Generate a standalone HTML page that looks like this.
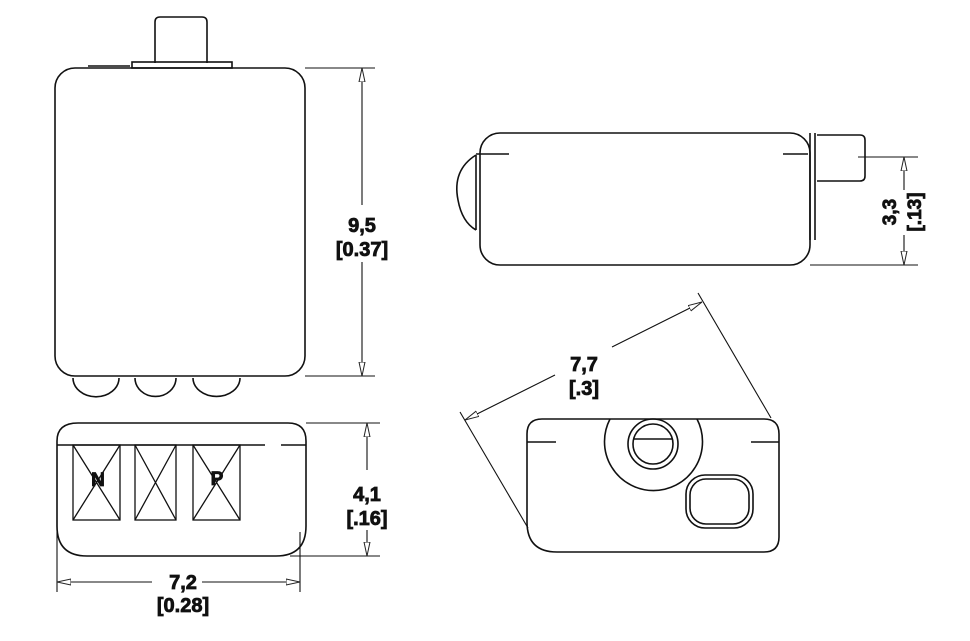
<!DOCTYPE html>
<html><head><meta charset="utf-8"><style>
html,body{margin:0;padding:0;background:#fff;}
svg{display:block}
text{font-family:"Liberation Sans",sans-serif;font-weight:bold;fill:#111;stroke:#111;stroke-width:0.8;text-anchor:middle}
</style></head><body>
<svg width="970" height="641" viewBox="0 0 970 641" xmlns="http://www.w3.org/2000/svg">
<defs>
<marker id="ar" viewBox="0 0 14 8" refX="14" refY="4" markerWidth="14" markerHeight="8" markerUnits="userSpaceOnUse" orient="auto-start-reverse">
<path d="M0,1 L14,4 L0,7 Z" fill="#fff" stroke="#222" stroke-width="1"/>
</marker>
</defs>
<g fill="none" stroke="#111" stroke-width="1.6">
<!-- top-left view -->
<rect x="55" y="68" width="250" height="308" rx="20"/>
<path d="M155,63 V22 Q155,17 160,17 H202 Q207,17 207,22 V63"/>
<rect x="132" y="62" width="100" height="6"/>
<line x1="88" y1="66" x2="130" y2="66"/>
<path d="M73,378 A22,18 0 0 0 119,378"/>
<path d="M135,378 A20,18 0 0 0 176,378"/>
<path d="M193,378 A23,18 0 0 0 240,378"/>
<g stroke-width="1.1">
<line x1="305" y1="68" x2="375" y2="68"/><line x1="305" y1="376" x2="375" y2="376"/>
<line x1="362" y1="205" x2="362" y2="68" marker-end="url(#ar)"/>
<line x1="362" y1="262" x2="362" y2="376" marker-end="url(#ar)"/>
</g>
<!-- bottom-left view -->
<path d="M78,423 H288 Q306,423 306,441 V526 Q306,556 276,556 H87 Q57,556 57,526 V441 Q57,423 78,423 Z"/>
<line x1="57" y1="445" x2="265" y2="445"/><line x1="281" y1="445" x2="306" y2="445"/>
<g stroke-width="1.3">
<rect x="73" y="445" width="47" height="75"/><path d="M73,445 L120,520 M120,445 L73,520"/>
<rect x="135" y="445" width="41" height="75"/><path d="M135,445 L176,520 M176,445 L135,520"/>
<rect x="193" y="445" width="47" height="75"/><path d="M193,445 L240,520 M240,445 L193,520"/>
</g>
<g stroke-width="1.1">
<line x1="306" y1="423" x2="380" y2="423"/><line x1="290" y1="556" x2="380" y2="556"/>
<line x1="367" y1="470" x2="367" y2="423" marker-end="url(#ar)"/>
<line x1="367" y1="530" x2="367" y2="556" marker-end="url(#ar)"/>
<line x1="57" y1="520" x2="57" y2="592"/><line x1="300" y1="532" x2="300" y2="592"/>
<line x1="152" y1="582" x2="57" y2="582" marker-end="url(#ar)"/>
<line x1="202" y1="582" x2="300" y2="582" marker-end="url(#ar)"/>
</g>
<!-- top-right view -->
<rect x="480" y="133" width="330" height="132" rx="20"/>
<path d="M476,155 Q452,170 458,200 Q462,222 476,230"/>
<line x1="476" y1="155" x2="476" y2="230"/>
<line x1="476" y1="154" x2="509" y2="154"/><line x1="783" y1="154" x2="808" y2="154"/>
<line x1="810" y1="133" x2="810" y2="240"/><line x1="815" y1="133" x2="815" y2="240"/>
<path d="M817,135 H860 Q865,135 865,140 V176 Q865,181 860,181 H817"/>
<g stroke-width="1.1">
<line x1="858" y1="157" x2="918" y2="157"/><line x1="810" y1="265" x2="918" y2="265"/>
<line x1="904" y1="190" x2="904" y2="157" marker-end="url(#ar)"/>
<line x1="904" y1="235" x2="904" y2="265" marker-end="url(#ar)"/>
</g>
<!-- bottom-right view -->
<path d="M542,419 H764 Q779,419 779,434 V537 Q779,552 764,552 H557 Q527,552 527,522 V434 Q527,419 542,419 Z"/>
<line x1="527" y1="442" x2="556" y2="442"/><line x1="751" y1="442" x2="779" y2="442"/>
<path d="M610,419 A49,49 0 1 0 697,419"/>
<circle cx="653" cy="444" r="25"/><circle cx="653" cy="444" r="20"/>
<line x1="634" y1="439" x2="672" y2="439"/>
<rect x="686" y="475" width="67" height="53" rx="19"/>
<rect x="690" y="479" width="59" height="45" rx="16"/>
<g stroke-width="1.1">
<line x1="460" y1="412" x2="528" y2="528"/><line x1="698" y1="293" x2="771" y2="418"/>
<line x1="555" y1="375" x2="465" y2="420" marker-end="url(#ar)"/>
<line x1="612" y1="347" x2="702" y2="302" marker-end="url(#ar)"/>
</g>
</g>
<text x="362" y="232" font-size="20">9,5</text>
<text x="362" y="256" font-size="20">[0.37]</text>
<text x="367" y="501" font-size="20">4,1</text>
<text x="367" y="525" font-size="20">[.16]</text>
<text x="183" y="589" font-size="20">7,2</text>
<text x="183" y="612" font-size="20">[0.28]</text>
<text x="584" y="371" font-size="20">7,7</text>
<text x="584" y="395" font-size="20">[.3]</text>
<text x="98" y="486" font-size="19">N</text>
<text x="217" y="485" font-size="19">P</text>
<text transform="translate(896,212) rotate(-90)" font-size="19">3,3</text>
<text transform="translate(921,212) rotate(-90)" font-size="19">[.13]</text>
</svg>
</body></html>
